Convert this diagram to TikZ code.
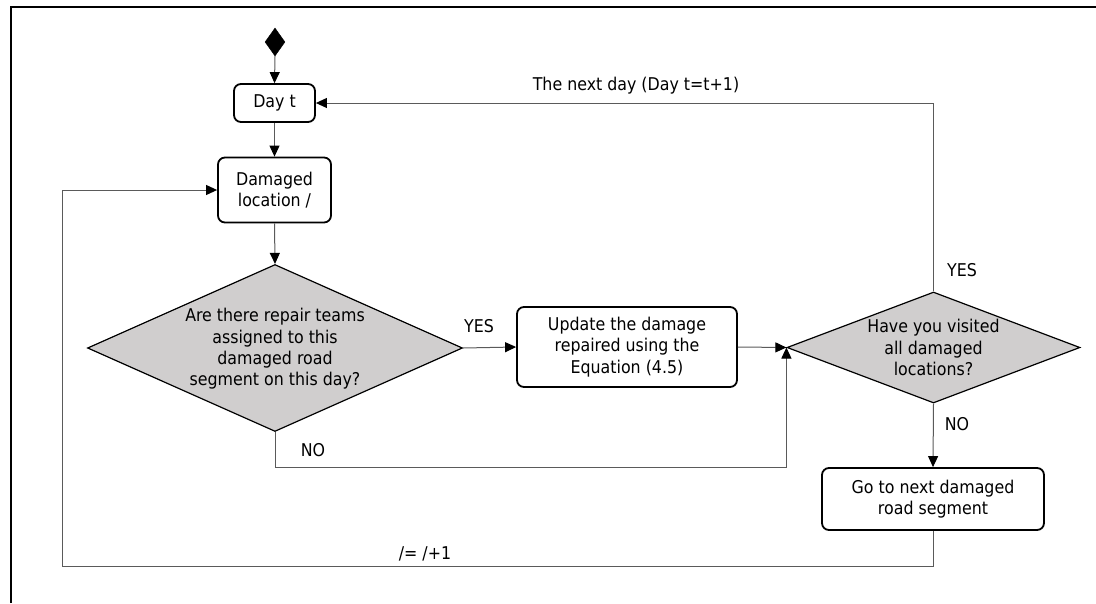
\documentclass[tikz,border=0pt]{standalone}
\usepackage{fontspec}
\setmainfont{DejaVu Sans Condensed}
\usetikzlibrary{shapes.geometric,arrows.meta,calc}
\definecolor{dgray}{RGB}{208,206,206}
\definecolor{lgray}{RGB}{90,90,90}
\tikzset{
  boxst/.style={draw=black, line width=1.8pt, rounded corners=7pt, fill=white, align=center, inner sep=0pt},
  decst/.style={diamond, draw=black, line width=1.2pt, fill=dgray, inner sep=0pt},
  txt/.style={align=center, inner sep=0pt, font=\fontsize{17.6}{21.3}\selectfont},
  lab/.style={inner sep=0pt, font=\fontsize{17.6}{21}\selectfont},
  conn/.style={draw=lgray, line width=1pt, -{Triangle[length=11pt,width=10pt,fill=black,color=black]}},
  line/.style={draw=lgray, line width=1pt}
}
\begin{document}
\begin{tikzpicture}[x=1pt,y=-1pt]
\useasboundingbox (0,0) rectangle (1096,603);
\draw[line width=2pt] (11,603) -- (11,7) -- (1096,7);

\node[diamond, fill=black, draw=black, minimum width=20, minimum height=28, inner sep=0pt] (start) at (275,42) {};
\node[boxst, minimum width=81, minimum height=38, txt] (day) at (274.5,103) {Day t};
\node[boxst, minimum width=113, minimum height=65, txt] (dmg) at (274.5,190) {Damaged\\location /};
\node[decst, minimum width=375, minimum height=167] (d1) at (275,348) {};
\node[txt] at (275,349) {Are there repair teams\\assigned to this\\damaged road\\segment on this day?};
\node[boxst, minimum width=220, minimum height=80, txt] (upd) at (627,347) {Update the damage\\repaired using the\\Equation (4.5)};
\node[decst, minimum width=293, minimum height=111] (d2) at (933.5,347.5) {};
\node[txt] at (d2.center) {Have you visited\\all damaged\\locations?};
\node[boxst, minimum width=222, minimum height=62, txt] (go) at (933,499) {Go to next damaged\\road segment};

\coordinate (lp) at (62,566);

\draw[conn] (start.south) -- (day.north);
\draw[conn] (day.south) -- (dmg.north);
\draw[conn] (dmg.south) -- (d1.north);
\draw[conn] (d1.east) -- (upd.west);
\draw[conn] (upd.east) -- (d2.west);
\draw[conn] (d1.south) -- ++(0,35) -| (d2.west);
\draw[conn] (d2.north) |- (day.east);
\draw[conn] (d2.south) -- (go.north);
\draw[conn] (go.south) |- (lp) |- (dmg.west);

\node[lab] (l1) at (479,326) {YES};
\node[lab] (l2) at (313,450) {NO};
\node[lab] (l3) at (636,86) {The next day (Day t=t+1)};
\node[lab] (l4) at (962,270) {YES};
\node[lab] (l5) at (957,424) {NO};
\node[lab] (l6) at (425,554) {/= /+1};
\end{tikzpicture}
\end{document}
